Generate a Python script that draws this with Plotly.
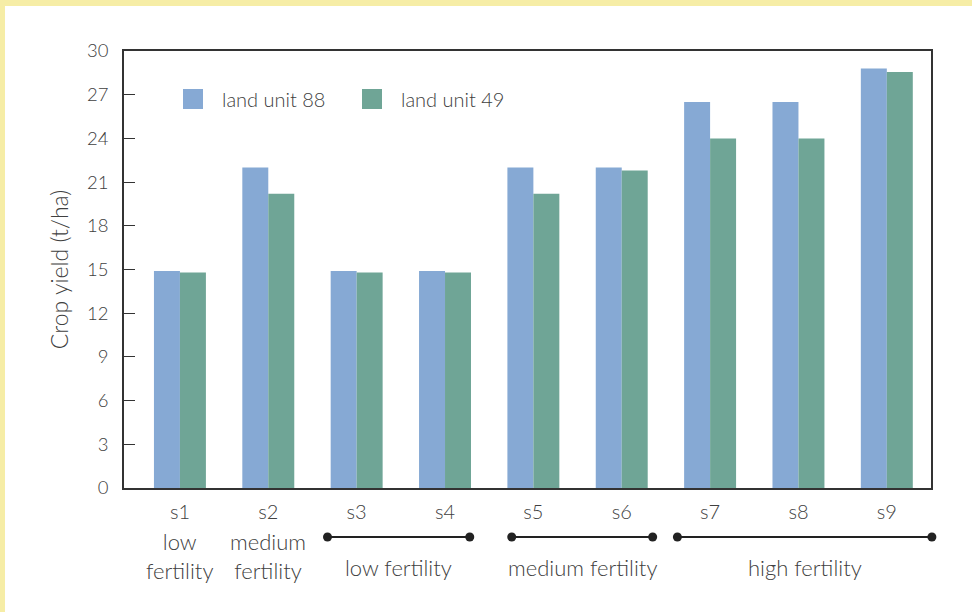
import plotly.graph_objects as go

# ---- data ----
categories = ["s1", "s2", "s3", "s4", "s5", "s6", "s7", "s8", "s9"]
land_unit_88 = [14.9, 22.0, 14.9, 14.9, 22.0, 22.0, 26.5, 26.5, 28.8]
land_unit_49 = [14.8, 20.2, 14.8, 14.8, 20.2, 21.8, 24.0, 24.0, 28.55]
series_names = ["land unit 88", "land unit 49"]
y_ticks = [0, 3, 6, 9, 12, 15, 18, 21, 24, 27, 30]

# fertility groups: (label, first index, last index)
single_groups = [("low<br>fertility", 0), ("medium<br>fertility", 1)]
span_groups = [("low fertility", 2, 3), ("medium fertility", 4, 5), ("high fertility", 6, 8)]

# ---- style ----
BLUE = "#86A9D4"
GREEN = "#6FA596"
TEXT = "#404040"
AXIS = "#333333"
YELLOW = "#F6EDA6"
FONT = "Lato"
WEIGHT = 300
span_pad = [(-0.33, 0.28), (-0.245, 0.35), (-0.37, 0.51)]
X_RANGE = [-0.633, 8.5]

W, H = 972, 612
ML, MR, MT, MB = 124, 41, 51, 124
pw, ph = W - ML - MR, H - MT - MB


def px_x(px):
    return (px - ML) / pw


def px_y(py):
    return (H - MB - py) / ph


def data_to_paper_x(v):
    return (v - X_RANGE[0]) / (X_RANGE[1] - X_RANGE[0])


def fnt(size):
    return dict(family=FONT, size=size, color=TEXT, weight=WEIGHT)


xs = list(range(len(categories)))

fig = go.Figure()
fig.add_trace(go.Bar(x=xs, y=land_unit_88, name=series_names[0], marker_color=BLUE,
                     marker_line_width=0, showlegend=False))
fig.add_trace(go.Bar(x=xs, y=land_unit_49, name=series_names[1], marker_color=GREEN,
                     marker_line_width=0, showlegend=False))

shapes = []
annotations = []

# yellow frame (top and left)
shapes.append(dict(type="rect", xref="paper", yref="paper", layer="below",
                   x0=px_x(5), x1=px_x(W + 5), y0=px_y(H + 5), y1=px_y(6),
                   fillcolor="white", line_width=0))

# legend (manual)
legend_items = [(series_names[0], BLUE, 183), (series_names[1], GREEN, 362)]
for name, col, lx in legend_items:
    shapes.append(dict(type="rect", xref="paper", yref="paper",
                       x0=px_x(lx), x1=px_x(lx + 20), y0=px_y(109), y1=px_y(89),
                       fillcolor=col, line_width=0))
    annotations.append(dict(xref="paper", yref="paper", x=px_x(lx + 37), y=px_y(99),
                            text=name, showarrow=False, xanchor="left", yanchor="middle",
                            font=fnt(20)))

# single-category group labels
for label, i in single_groups:
    annotations.append(dict(xref="x", yref="paper", x=i, y=px_y(556), text=label,
                            showarrow=False, xanchor="center", yanchor="middle",
                            font=fnt(22)))

# spanning group brackets
line_y = px_y(537)
for (label, a, b), (pa, pb) in zip(span_groups, span_pad):
    x0, x1 = data_to_paper_x(a + pa), data_to_paper_x(b + pb)
    shapes.append(dict(type="line", xref="paper", yref="paper", x0=x0, x1=x1,
                       y0=line_y, y1=line_y, line=dict(color="#222222", width=2)))
    for xv in (x0, x1):
        shapes.append(dict(type="circle", xref="paper", yref="paper",
                           xsizemode="pixel", ysizemode="pixel",
                           xanchor=xv, yanchor=line_y, x0=-4.5, x1=4.5, y0=-4.5, y1=4.5,
                           fillcolor="#222222", line_width=0))
    annotations.append(dict(xref="paper", yref="paper", x=(x0 + x1) / 2, y=px_y(567), text=label,
                            showarrow=False, xanchor="center", yanchor="middle",
                            font=fnt(22)))

fig.update_layout(
    width=W, height=H,
    margin=dict(l=ML, r=MR, t=MT, b=MB, pad=0),
    paper_bgcolor=YELLOW,
    plot_bgcolor="white",
    barmode="group",
    bargap=0.412,
    bargroupgap=0,
    font=dict(family=FONT, color=TEXT),
    shapes=shapes,
    annotations=annotations,
    showlegend=False,
)
fig.update_xaxes(
    range=X_RANGE,
    tickmode="array", tickvals=xs, ticktext=categories,
    showline=True, linecolor=AXIS, linewidth=1.5, mirror=True,
    ticks="", showgrid=False, zeroline=False,
    tickfont=fnt(20),
    ticklabelstandoff=5,
)
fig.update_yaxes(
    range=[0, 30],
    tickmode="array", tickvals=y_ticks,
    showline=True, linecolor=AXIS, linewidth=1.5, mirror=True,
    ticks="inside", ticklen=11, tickcolor=AXIS, tickwidth=1.2,
    showgrid=False, zeroline=False,
    tickfont=fnt(18.5),
    ticklabelstandoff=10,
    title=dict(text="Crop yield (t/ha)", font=fnt(23), standoff=12),
)

fig.write_html("out.html", config={"displayModeBar": False},
               post_script="document.body.style.margin='0';")
